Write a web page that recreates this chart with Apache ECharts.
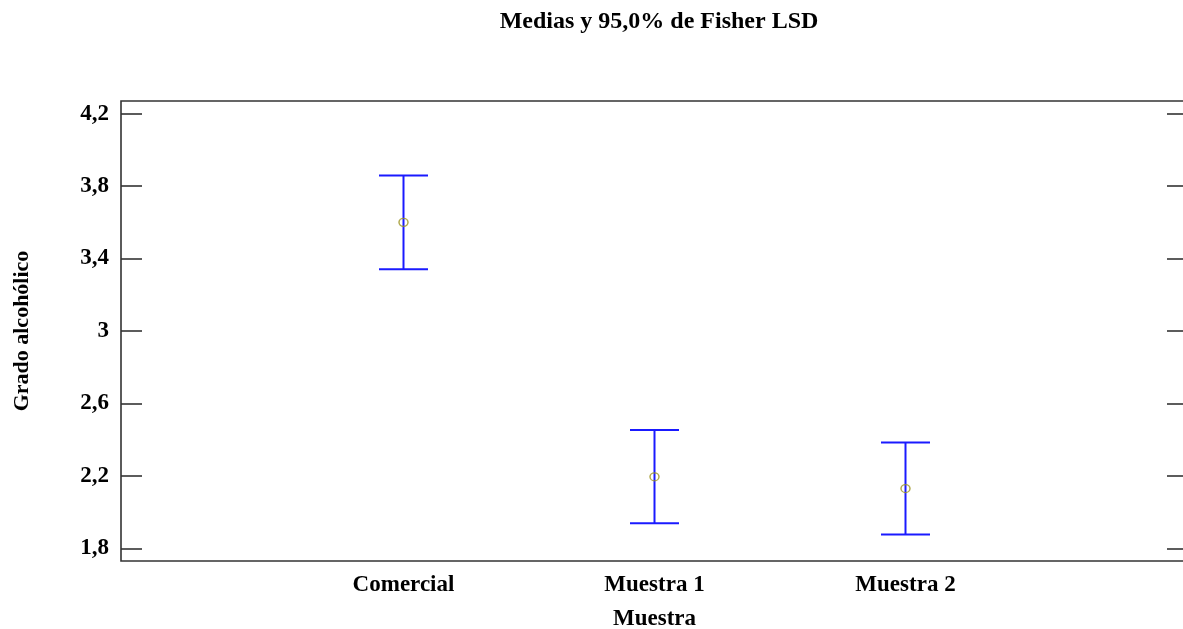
<!DOCTYPE html>
<html>
<head>
<meta charset="utf-8">
<script src="https://cdn.jsdelivr.net/npm/echarts@6/dist/echarts.min.js"></script>
<style>html,body{margin:0;padding:0;background:#fff}#c{width:1183px;height:629px}</style>
</head>
<body>
<div id="c"></div>
<script>
var categories = ["Comercial", "Muestra 1", "Muestra 2"];
var means = [3.60, 2.195, 2.13];
var lower = [3.341, 1.938, 1.877];
var upper = [3.858, 2.453, 2.385];
var yTicks = [1.8, 2.2, 2.6, 3.0, 3.4, 3.8, 4.2];
var xTicks = [1, 2, 3];

var FONT = '"Liberation Serif", "DejaVu Serif", serif';
var chart = echarts.init(document.getElementById('c'), null, {renderer: 'canvas'});

var barData = categories.map(function (c, i) { return [i + 1, lower[i], upper[i]]; });
var meanData = categories.map(function (c, i) { return [i + 1, means[i]]; });

function yAxisCfg(pos) {
  var isLeft = pos === 'left';
  return {
    type: 'value', min: 1.73, max: 4.27, position: pos,
    name: isLeft ? 'Grado alcohólico' : '', nameLocation: 'middle', nameGap: 88, nameRotate: 90,
    nameTextStyle: {fontFamily: FONT, fontWeight: 'bold', fontSize: 22, color: '#000'},
    axisLine: {show: false, onZero: false},
    axisTick: {show: true, inside: true, length: 21, customValues: yTicks, lineStyle: {color: '#333', width: 1.6}},
    splitLine: {show: false},
    axisLabel: {
      show: isLeft,
      customValues: yTicks, margin: 12,
      fontFamily: FONT, fontWeight: 'bold', fontSize: 23, color: '#000',
      formatter: function (v) { return String(Math.round(v * 10) / 10).replace('.', ','); }
    }
  };
}

chart.setOption({
  animation: false,
  backgroundColor: '#ffffff',
  title: {
    text: 'Medias y 95,0% de Fisher LSD',
    left: 654, top: 5, textAlign: 'center',
    textStyle: {fontFamily: FONT, fontWeight: 'bold', fontSize: 24, color: '#000'}
  },
  grid: {left: 121, width: 1067, top: 101, height: 460, containLabel: false, outerBoundsMode: 'none',
         show: true, borderColor: '#333', borderWidth: 1.6, backgroundColor: 'transparent'},
  xAxis: {
    type: 'value', min: -0.1255, max: 4.1255,
    name: 'Muestra', nameLocation: 'middle', nameGap: 47,
    nameTextStyle: {fontFamily: FONT, fontWeight: 'bold', fontSize: 23, color: '#000'},
    axisLine: {show: false, onZero: false},
    axisTick: {show: false},
    splitLine: {show: false},
    axisLabel: {
      customValues: xTicks, margin: 13,
      fontFamily: FONT, fontWeight: 'bold', fontSize: 23, color: '#000',
      formatter: function (v) { return categories[Math.round(v) - 1] || ''; }
    }
  },
  yAxis: [yAxisCfg('left'), yAxisCfg('right')],
  series: [
    {
      type: 'custom',
      data: barData,
      renderItem: function (params, api) {
        var x = api.value(0);
        var lo = api.coord([x, api.value(1)]);
        var hi = api.coord([x, api.value(2)]);
        var hw = 24.5;
        var st = {stroke: '#1a1aff', lineWidth: 2};
        return {
          type: 'group',
          children: [
            {type: 'line', shape: {x1: lo[0], y1: lo[1], x2: hi[0], y2: hi[1]}, style: st},
            {type: 'line', shape: {x1: lo[0] - hw, y1: lo[1], x2: lo[0] + hw, y2: lo[1]}, style: st},
            {type: 'line', shape: {x1: hi[0] - hw, y1: hi[1], x2: hi[0] + hw, y2: hi[1]}, style: st}
          ]
        };
      },
      z: 2
    },
    {
      type: 'scatter',
      data: meanData,
      symbol: 'circle',
      symbolSize: [9, 8],
      itemStyle: {color: 'transparent', borderColor: '#9c9422', borderWidth: 1.4},
      z: 3
    }
  ]
});
</script>
</body>
</html>
